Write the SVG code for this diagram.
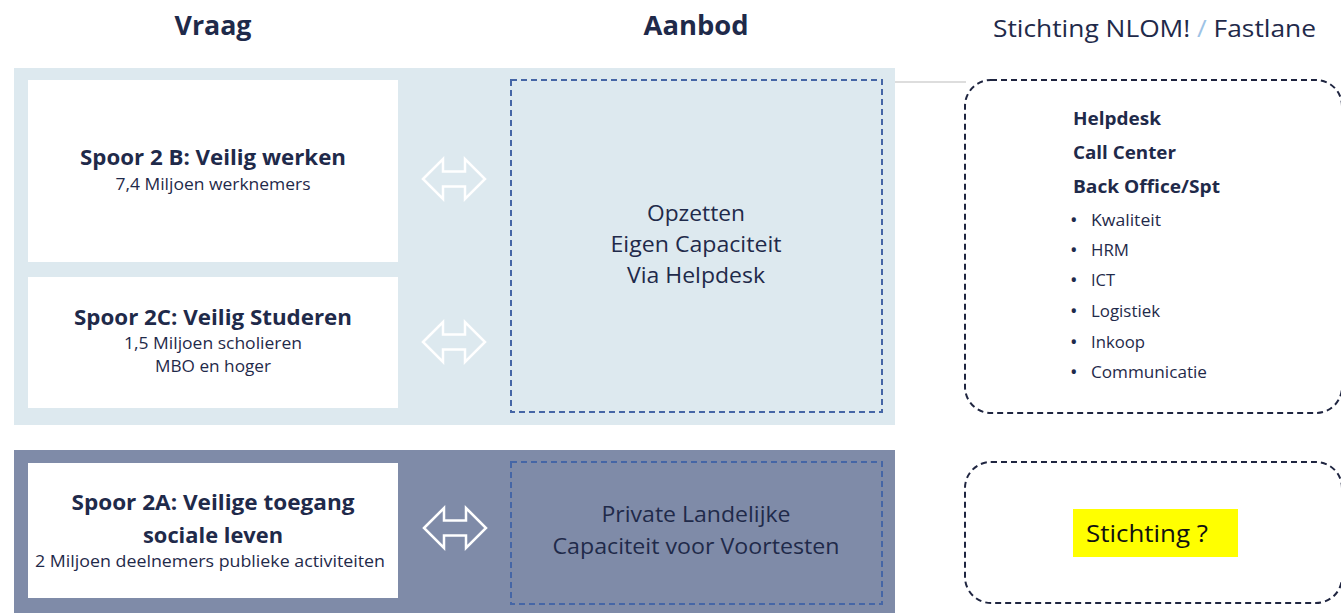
<svg xmlns="http://www.w3.org/2000/svg" width="1341" height="613" viewBox="0 0 1341 613">
<defs>
<style>
text{font-family:"Open Sans","Liberation Sans",sans-serif;fill:#1f2a4a}
.h{font-size:26px;font-weight:bold}
.t{font-size:21px;font-weight:bold}
.s{font-size:16px}
.m{font-size:22px}
.r{font-size:18px;font-weight:bold}
.l{font-size:17px}
.bu{font-size:20px}
.c{text-anchor:middle}
.blued{fill:none;stroke:#4566a6;stroke-width:2;stroke-dasharray:6 4}
.darkd{fill:#ffffff;stroke:#1f2540;stroke-width:2;stroke-dasharray:6 4}
.arr{fill:none;stroke:#ffffff;stroke-width:2.5;stroke-linejoin:miter}
</style>
<path id="dbl" d="M-31,0 L-11,-20 L-11,-7.5 L11,-7.5 L11,-20 L31,0 L11,20 L11,7.5 L-11,7.5 L-11,20 Z"/>
</defs>
<rect width="1341" height="613" fill="#ffffff"/>

<g id="headers">
<text class="h c" x="213" y="35" textLength="77" lengthAdjust="spacingAndGlyphs">Vraag</text>
<text class="h c" x="696" y="35" textLength="105" lengthAdjust="spacingAndGlyphs">Aanbod</text>
<text x="993" y="37" font-size="24" textLength="323" lengthAdjust="spacingAndGlyphs">Stichting NLOM! <tspan fill="#9dc3e6">/</tspan> Fastlane</text>
</g>

<g id="panels">
<rect x="14" y="68" width="881" height="357" fill="#dde9ef"/>
<rect x="14" y="450" width="881" height="163" fill="#7f8ba8"/>
</g>

<g id="connectors">
<line x1="895" y1="82" x2="966" y2="82" stroke="#bbbbbb" stroke-width="1.2"/>
<use href="#dbl" class="arr" x="454" y="179"/>
<use href="#dbl" class="arr" x="454" y="342"/>
<use href="#dbl" class="arr" x="455" y="528"/>
</g>

<g id="spoor2b">
<rect x="28" y="80" width="370" height="182" fill="#fff"/>
<text class="t c" x="213" y="165" textLength="266" lengthAdjust="spacingAndGlyphs">Spoor 2 B: Veilig werken</text>
<text class="s c" x="213" y="190" textLength="195" lengthAdjust="spacingAndGlyphs">7,4 Miljoen werknemers</text>
</g>

<g id="spoor2c">
<rect x="28" y="277" width="370" height="131" fill="#fff"/>
<text class="t c" x="213" y="325" textLength="278" lengthAdjust="spacingAndGlyphs">Spoor 2C: Veilig Studeren</text>
<text class="s c" x="213" y="349" textLength="178" lengthAdjust="spacingAndGlyphs">1,5 Miljoen scholieren</text>
<text class="s c" x="213" y="372" textLength="116" lengthAdjust="spacingAndGlyphs">MBO en hoger</text>
</g>

<g id="eigen">
<rect x="511" y="80" width="371" height="332" class="blued"/>
<text class="m c" x="696" y="221" textLength="98" lengthAdjust="spacingAndGlyphs">Opzetten</text>
<text class="m c" x="696" y="252" textLength="171" lengthAdjust="spacingAndGlyphs">Eigen Capaciteit</text>
<text class="m c" x="696" y="283" textLength="138" lengthAdjust="spacingAndGlyphs">Via Helpdesk</text>
</g>

<g id="spoor2a">
<rect x="28" y="463" width="370" height="135" fill="#fff"/>
<text class="t c" x="213" y="510" textLength="283" lengthAdjust="spacingAndGlyphs">Spoor 2A: Veilige toegang</text>
<text class="t c" x="213" y="543" textLength="140" lengthAdjust="spacingAndGlyphs">sociale leven</text>
<text class="s c" x="210" y="567" textLength="350" lengthAdjust="spacingAndGlyphs">2 Miljoen deelnemers publieke activiteiten</text>
</g>

<g id="private">
<rect x="511" y="462" width="371" height="142" class="blued"/>
<text class="m c" x="696" y="522" textLength="189" lengthAdjust="spacingAndGlyphs">Private Landelijke</text>
<text class="m c" x="696" y="554" textLength="287" lengthAdjust="spacingAndGlyphs">Capaciteit voor Voortesten</text>
</g>

<g id="nlom">
<rect x="965" y="80" width="377" height="333" rx="26" ry="26" class="darkd"/>
<text class="r" x="1073" y="125" textLength="88" lengthAdjust="spacingAndGlyphs">Helpdesk</text>
<text class="r" x="1073" y="159" textLength="103" lengthAdjust="spacingAndGlyphs">Call Center</text>
<text class="r" x="1073" y="193" textLength="147" lengthAdjust="spacingAndGlyphs">Back Office/Spt</text>
<text class="bu" x="1070" y="227">•</text><text x="1091" y="226" class="l" textLength="70" lengthAdjust="spacingAndGlyphs">Kwaliteit</text>
<text class="bu" x="1070" y="257">•</text><text x="1091" y="256" class="l" textLength="38" lengthAdjust="spacingAndGlyphs">HRM</text>
<text class="bu" x="1070" y="287">•</text><text x="1091" y="286" class="l" textLength="24" lengthAdjust="spacingAndGlyphs">ICT</text>
<text class="bu" x="1070" y="318">•</text><text x="1091" y="317" class="l" textLength="69" lengthAdjust="spacingAndGlyphs">Logistiek</text>
<text class="bu" x="1070" y="349">•</text><text x="1091" y="348" class="l" textLength="54" lengthAdjust="spacingAndGlyphs">Inkoop</text>
<text class="bu" x="1070" y="379">•</text><text x="1091" y="378" class="l" textLength="116" lengthAdjust="spacingAndGlyphs">Communicatie</text>
</g>

<g id="stichting">
<rect x="965" y="462" width="377" height="141" rx="26" ry="26" class="darkd"/>
<rect x="1073" y="509" width="165" height="48" fill="#ffff00"/>
<text x="1086" y="542" font-size="23" style="fill:#111" textLength="122" lengthAdjust="spacingAndGlyphs">Stichting ?</text>
</g>
</svg>
